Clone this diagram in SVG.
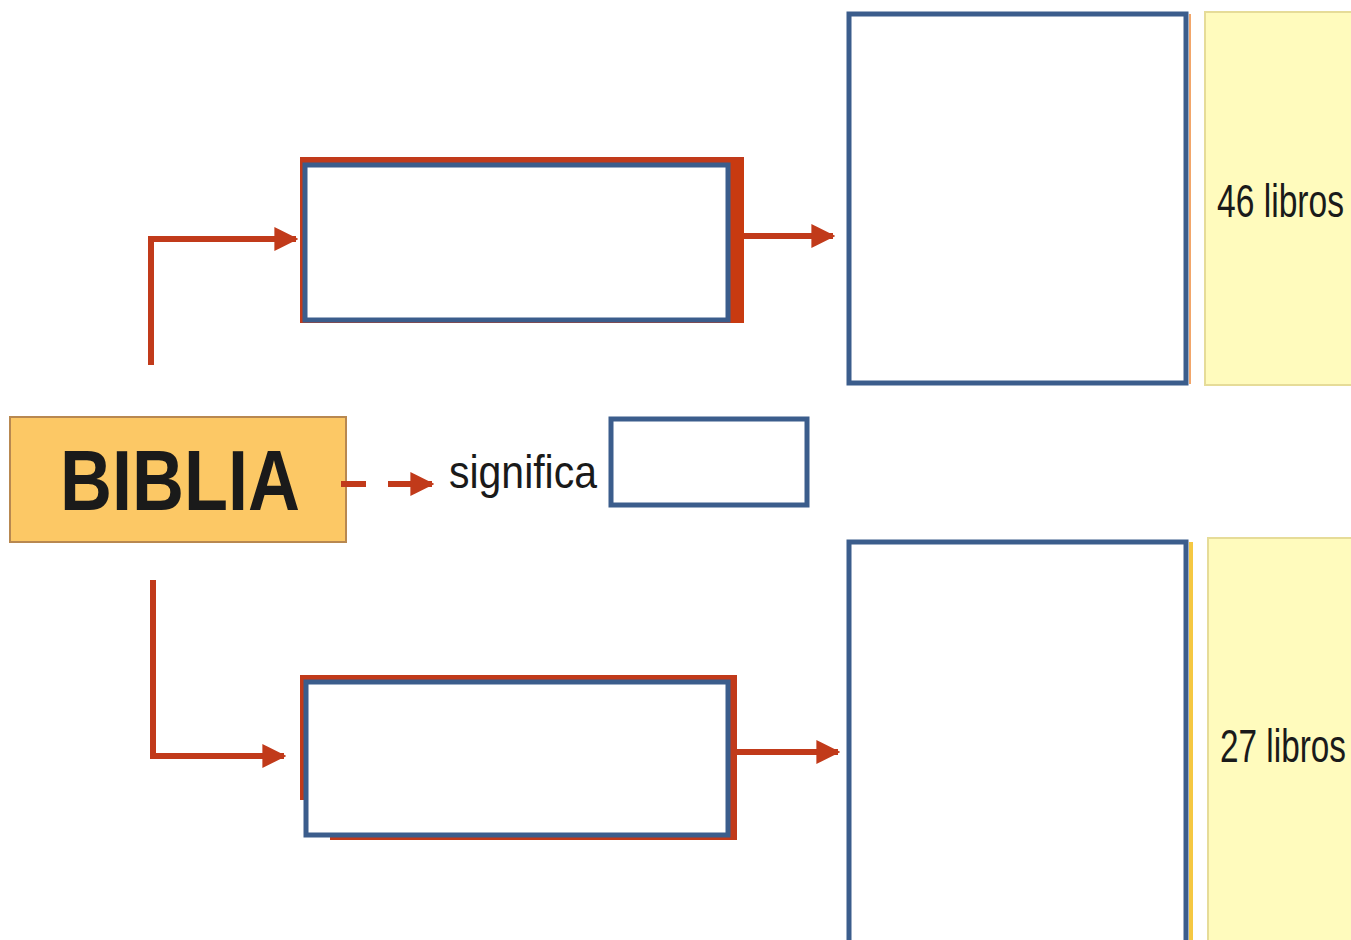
<svg xmlns="http://www.w3.org/2000/svg" width="1351" height="940" viewBox="0 0 1351 940">
<style>
.red{fill:none;stroke:#c13a1a;stroke-width:6}
.blue{fill:#ffffff;stroke:#3b5d8c;stroke-width:5}
.yellow{fill:#fffbbd;stroke:#e6dc98;stroke-width:2}
.lbl{font-family:"Liberation Sans",Arial,sans-serif;fill:#1a1a1a}
</style>
<defs>
<marker id="ah" viewBox="0 0 10 10" refX="9" refY="5" markerWidth="4" markerHeight="4" markerUnits="strokeWidth" orient="auto">
<path d="M0,0 L10,5 L0,10 z" fill="#c13a1a"/>
</marker>
</defs>
<rect width="1351" height="940" fill="#ffffff"/>

<g id="biblia">
<rect x="10" y="417" width="336" height="125" fill="#fcc865" stroke="#b88850" stroke-width="2"/>
<text class="lbl" x="60" y="510" font-size="86" font-weight="bold" textLength="240" lengthAdjust="spacingAndGlyphs" fill="#111">BIBLIA</text>
</g>

<g id="significa">
<text class="lbl" x="449" y="488" font-size="46" textLength="148" lengthAdjust="spacingAndGlyphs">significa</text>
</g>

<g id="box-significado">
<rect class="blue" x="611" y="419" width="196" height="86"/>
</g>

<g id="box-top-middle">
<path d="M300,157 H744 V323 H300 Z" fill="#c13a1a"/>
<rect x="728" y="160" width="16" height="163" fill="#c83a10"/>
<rect class="blue" x="305" y="165" width="423" height="155"/>
</g>

<g id="box-top-right">
<line x1="1190" y1="14" x2="1190" y2="384" stroke="#f2a66a" stroke-width="2"/>
<rect class="blue" x="849" y="14" width="337" height="369"/>
</g>

<g id="yellow-top">
<rect class="yellow" x="1205" y="12" width="152" height="373"/>
<text class="lbl" x="1217" y="217" font-size="46" textLength="127" lengthAdjust="spacingAndGlyphs">46 libros</text>
</g>

<g id="box-bottom-middle">
<rect x="300" y="675" width="437" height="125" fill="#c13a1a"/>
<rect x="330" y="675" width="407" height="165" fill="#c13a1a"/>
<rect class="blue" x="306" y="682" width="422" height="153"/>
</g>

<g id="box-bottom-right">
<line x1="1191" y1="542" x2="1191" y2="940" stroke="#f5c842" stroke-width="4"/>
<rect class="blue" x="849" y="542" width="337" height="410"/>
</g>

<g id="yellow-bottom">
<rect class="yellow" x="1208" y="538" width="152" height="410"/>
<text class="lbl" x="1220" y="762" font-size="46" textLength="126" lengthAdjust="spacingAndGlyphs">27 libros</text>
</g>

<g id="connectors">
<path class="red" d="M151,365 V239 H296" marker-end="url(#ah)"/>
<path class="red" d="M744,236 H833" marker-end="url(#ah)"/>
<path class="red" d="M153,580 V756 H284" marker-end="url(#ah)"/>
<path class="red" d="M737,752 H838" marker-end="url(#ah)"/>
<path class="red" d="M341,484 H366 M388,484 H432" marker-end="url(#ah)"/>
</g>
</svg>
